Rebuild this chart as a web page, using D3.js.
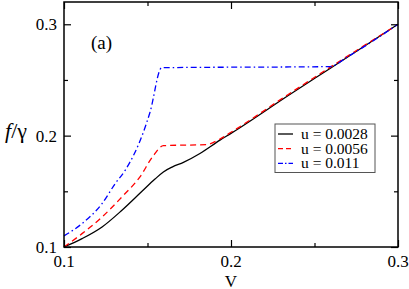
<!DOCTYPE html>
<html lang="en">
<head>
    <script src='https://d3js.org/d3.v7.min.js'></script>
    <title>f over gamma vs v</title>
    <style>
        body { margin: 0; background: #fff; }
    </style>
</head>
<body>
    <svg width="409" height="289"></svg>
    <script>

        // curves, [v, f/gamma]
        var black = [
            [0.1, 0.1], [0.1108, 0.1075], [0.1228, 0.118], [0.1347, 0.133],
            [0.1467, 0.15], [0.1545, 0.161], [0.1595, 0.1674], [0.165, 0.172],
            [0.1715, 0.176], [0.1814, 0.184], [0.1934, 0.196], [0.2, 0.202],
            [0.2343, 0.236], [0.26, 0.261], [0.3, 0.3]
        ];
        var red = [
            [0.1, 0.1], [0.1108, 0.112], [0.1228, 0.127], [0.1347, 0.145],
            [0.1455, 0.163], [0.1535, 0.182], [0.1595, 0.191], [0.1854, 0.192],
            [0.1934, 0.197], [0.2, 0.203], [0.2343, 0.237], [0.26, 0.262], [0.3, 0.3]
        ];
        var blue = [
            [0.1, 0.11], [0.1108, 0.121], [0.1228, 0.139], [0.1307, 0.157],
            [0.1367, 0.169], [0.1475, 0.203], [0.1515, 0.221], [0.1585, 0.261],
            [0.2593, 0.262], [0.27, 0.271], [0.3, 0.3]
        ];
        var seriesNames = ["u = 0.0028", "u = 0.0056", "u = 0.011"];
        var xTicks = [0.1, 0.2, 0.3], xMinor = [0.15, 0.25];
        var yTicks = [0.1, 0.2, 0.3], yMinor = [0.15, 0.25];

        var svg = d3.select("svg")
                .style("font-family", "'Liberation Serif', 'Times New Roman', Times, 'DejaVu Serif', serif"),
            marginLeft = 64, marginTop = 2, width = 334, height = 245;

        var x = d3.scaleLinear().domain([0.1, 0.3]).range([0, width]),
            y = d3.scaleLinear().domain([0.1, 0.32]).range([height, 0]);

        var g = svg.append("g").attr("transform", "translate(" + marginLeft + "," + marginTop + ")");

        var series = [
            { data: black, color: "#000000", dash: null, key: null },
            { data: red, color: "#ff0000", dash: "6,4", key: "5,3" },
            { data: blue, color: "#0000ff", dash: "6,3,1.5,3", key: "5,2,1.5,2" }
        ];

        var line = d3.line()
            .x(function (d) { return x(d[0]); })
            .y(function (d) { return y(d[1]); })
            .curve(d3.curveMonotoneX);

        g.selectAll(".curve")
            .data(series)
            .enter()
            .append("path")
            .attr("class", "curve")
            .attr("d", function (d) { return line(d.data); })
            .style("fill", "none")
            .style("stroke", function (d) { return d.color; })
            .style("stroke-width", 1.3)
            .style("stroke-dasharray", function (d) { return d.dash; });

        // axes, ticks pointing inward on all four sides
        var axes = [
            [d3.axisBottom, x, "translate(0," + height + ")", xTicks, xMinor],
            [d3.axisTop, x, "translate(0,0)", xTicks, xMinor],
            [d3.axisLeft, y, "translate(0,0)", yTicks, yMinor],
            [d3.axisRight, y, "translate(" + width + ",0)", yTicks, yMinor]
        ];
        axes.forEach(function (a) {
            var ax = g.append("g").attr("transform", a[2]);
            ax.append("g").call(a[0](a[1]).tickValues(a[3]).tickSize(-7).tickFormat(""));
            ax.append("g").call(a[0](a[1]).tickValues(a[4]).tickSize(-4).tickFormat(""));
            ax.selectAll("path.domain").remove();
            ax.selectAll("line").style("stroke", "#000").style("stroke-width", 1.2);
        });

        g.append("rect")
            .attr("width", width).attr("height", height)
            .style("fill", "none").style("stroke", "#000").style("stroke-width", 1.5);

        g.selectAll(".xl")
            .data(xTicks)
            .enter().append("text")
            .attr("x", function (d) { return x(d); })
            .attr("y", height + 20)
            .attr("text-anchor", "middle")
            .style("font-size", "17px")
            .text(function (d) { return d3.format(".1f")(d); });

        g.selectAll(".yl")
            .data(yTicks)
            .enter().append("text")
            .attr("x", -7)
            .attr("y", function (d) { return y(d) + 6; })
            .attr("text-anchor", "end")
            .style("font-size", "17px")
            .text(function (d) { return d3.format(".1f")(d); });

        svg.append("text")
            .attr("x", marginLeft + x(0.2))
            .attr("y", 287)
            .attr("text-anchor", "middle")
            .style("font-size", "17px")
            .text("V");

        var yl = svg.append("text")
            .attr("x", 5)
            .attr("y", 138)
            .style("font-size", "22px");
        yl.append("tspan").style("font-style", "italic").text("f");
        yl.append("tspan").text("/γ");

        svg.append("text")
            .attr("x", 91)
            .attr("y", 49)
            .style("font-size", "19px")
            .text("(a)");

        // legend
        var lg = svg.append("g").attr("transform", "translate(275,124)");
        lg.append("rect")
            .attr("width", 100).attr("height", 48.5)
            .style("fill", "#fff").style("stroke", "#555").style("stroke-width", 1);
        var row = lg.selectAll(".row")
            .data(series)
            .enter().append("g")
            .attr("transform", function (d, i) { return "translate(0," + (10 + i * 14.7) + ")"; });
        row.append("line")
            .attr("x1", 3).attr("x2", 18)
            .style("stroke", function (d) { return d.color; })
            .style("stroke-width", 1.3)
            .style("stroke-dasharray", function (d) { return d.key; });
        row.append("text")
            .attr("x", 26)
            .attr("y", 5)
            .style("font-size", "15.5px")
            .text(function (d, i) { return seriesNames[i]; });

    </script>
</body>
</html>
